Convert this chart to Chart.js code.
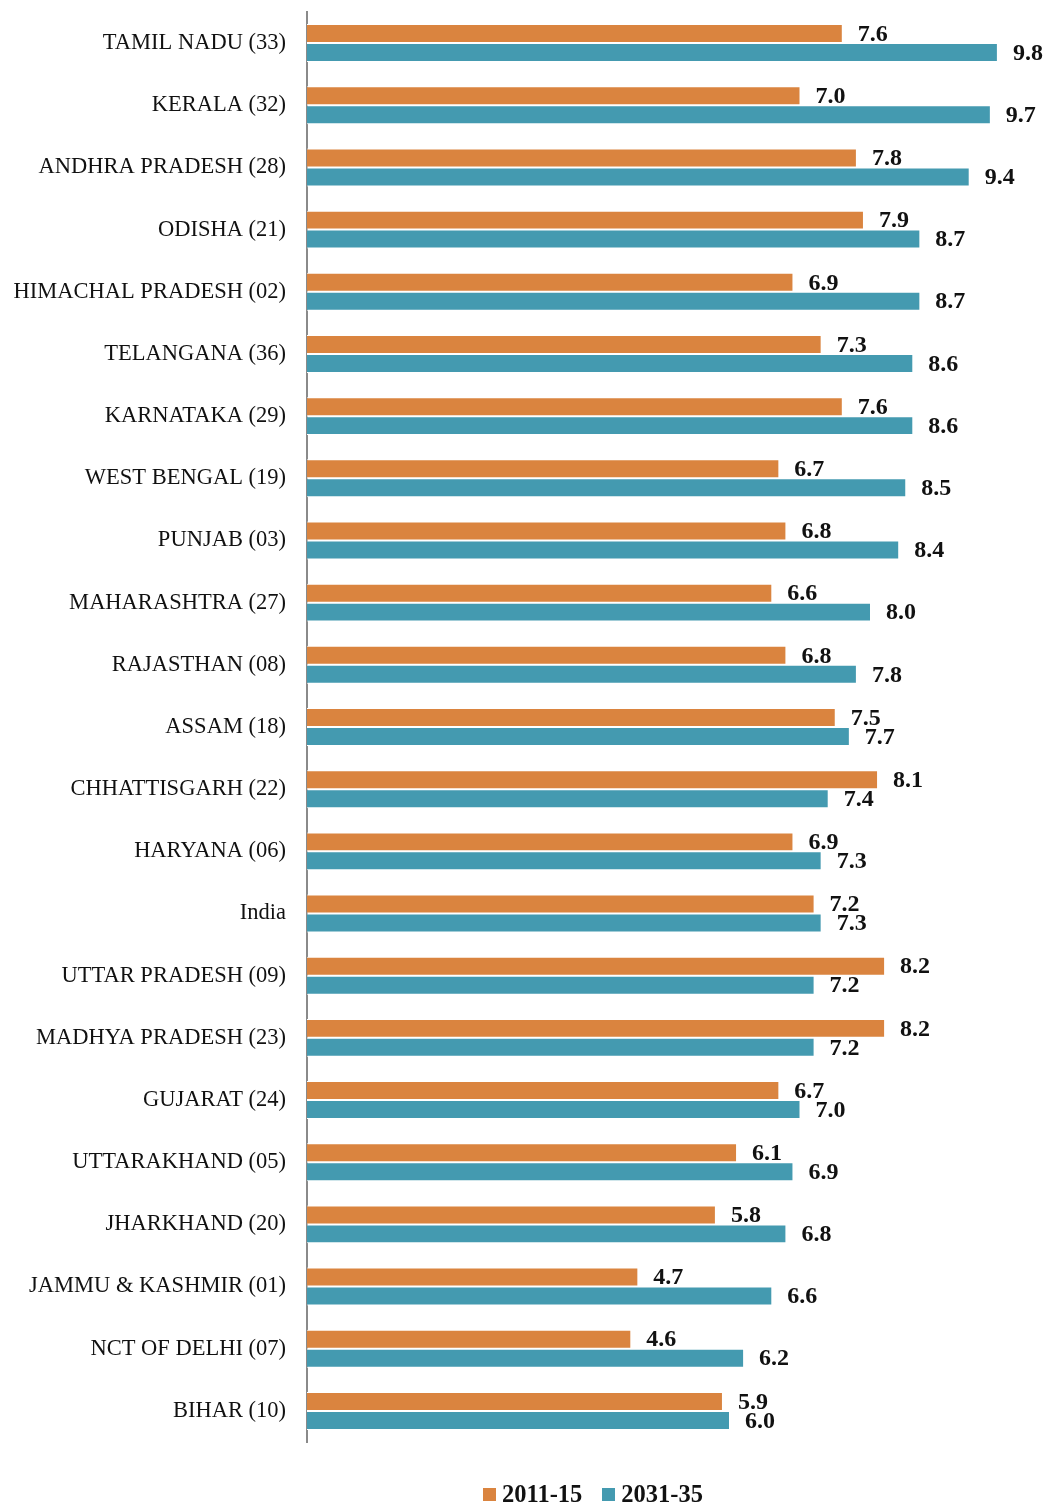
<!DOCTYPE html>
<html>
<head>
<meta charset="utf-8">
<script src="https://cdn.jsdelivr.net/npm/chart.js@4/dist/chart.umd.min.js"></script>
<style>
    html, body { margin: 0; padding: 0; background: #fff; }
    #wrap { position: relative; width: 1048px; height: 1504px; }
    #legend {
        position: absolute; top: 1480px; left: 0; width: 1186px;
        text-align: center; font-family: 'Liberation Serif', serif;
        font-weight: bold; font-size: 24.5px; color: #111;
    }
    #legend span.box { display: inline-block; width: 13px; height: 13px; margin-right: 6px; vertical-align: 1px; }
    #legend span.item { margin: 0 10px; }
</style>
</head>
<body>
<div id="wrap">
    <canvas id="barChart" width="1048" height="1504"></canvas>
    <div id="legend"></div>
</div>
<script>
const states = [
    'TAMIL NADU (33)', 'KERALA (32)', 'ANDHRA PRADESH (28)', 'ODISHA (21)',
    'HIMACHAL PRADESH (02)', 'TELANGANA (36)', 'KARNATAKA (29)', 'WEST BENGAL (19)',
    'PUNJAB (03)', 'MAHARASHTRA (27)', 'RAJASTHAN (08)', 'ASSAM (18)',
    'CHHATTISGARH (22)', 'HARYANA (06)', 'India', 'UTTAR PRADESH (09)',
    'MADHYA PRADESH (23)', 'GUJARAT (24)', 'UTTARAKHAND (05)', 'JHARKHAND (20)',
    'JAMMU & KASHMIR (01)', 'NCT OF DELHI (07)', 'BIHAR (10)'
];
const values2011 = [7.6, 7.0, 7.8, 7.9, 6.9, 7.3, 7.6, 6.7, 6.8, 6.6, 6.8, 7.5,
    8.1, 6.9, 7.2, 8.2, 8.2, 6.7, 6.1, 5.8, 4.7, 4.6, 5.9];
const values2031 = [9.8, 9.7, 9.4, 8.7, 8.7, 8.6, 8.6, 8.5, 8.4, 8.0, 7.8, 7.7,
    7.4, 7.3, 7.3, 7.2, 7.2, 7.0, 6.9, 6.8, 6.6, 6.2, 6.0];
const seriesNames = ['2011-15', '2031-35'];
const seriesColors = ['#da843f', '#449ab0'];

document.addEventListener('DOMContentLoaded', () => {
    dibujarLeyenda();
    dibujarGrafico();
});

function dibujarLeyenda() {
    const legend = document.getElementById('legend');
    legend.innerHTML = seriesNames.map((name, i) =>
        `<span class="item"><span class="box" style="background:${seriesColors[i]}"></span>${name}</span>`
    ).join('');
}

// etiquetas de valor al final de cada barra
const valueLabels = {
    id: 'valueLabels',
    afterDatasetsDraw(chart) {
        const ctx = chart.ctx;
        ctx.save();
        ctx.font = 'bold 24px "Liberation Serif", serif';
        ctx.fillStyle = '#111';
        ctx.textBaseline = 'middle';
        ctx.textAlign = 'left';
        chart.data.datasets.forEach((ds, i) => {
            chart.getDatasetMeta(i).data.forEach((bar, j) => {
                ctx.fillText(ds.data[j].toFixed(1), bar.x + 15, bar.y + 1);
            });
        });
        ctx.restore();
    }
};

function dibujarGrafico() {
    new Chart(document.getElementById('barChart').getContext('2d'), {
        type: 'bar',
        data: {
            labels: states,
            datasets: [
                { label: seriesNames[0], data: values2011, backgroundColor: seriesColors[0], borderColor: '#ffffff', borderWidth: 1 },
                { label: seriesNames[1], data: values2031, backgroundColor: seriesColors[1], borderColor: '#ffffff', borderWidth: 1 }
            ]
        },
        options: {
            indexAxis: 'y',
            responsive: false,
            animation: false,
            datasets: { bar: { categoryPercentage: 0.61, barPercentage: 1.0 } },
            layout: { padding: { left: 0, right: 36, top: 12, bottom: 62 } },
            plugins: {
                legend: { display: false },
                tooltip: { enabled: false }
            },
            scales: {
                x: { display: false, min: 0, max: 10 },
                y: {
                    afterFit: (scale) => {
                        scale.width = 307;
                        scale.paddingTop = 0;
                        scale.paddingBottom = 0;
                    },
                    grid: { display: false, drawTicks: false },
                    border: { display: true, color: '#8a8a8a', width: 2 },
                    ticks: {
                        padding: 21,
                        color: '#111',
                        font: { family: '"Liberation Serif", serif', size: 22.5 }
                    }
                }
            }
        },
        plugins: [valueLabels]
    });
}
</script>
</body>
</html>
